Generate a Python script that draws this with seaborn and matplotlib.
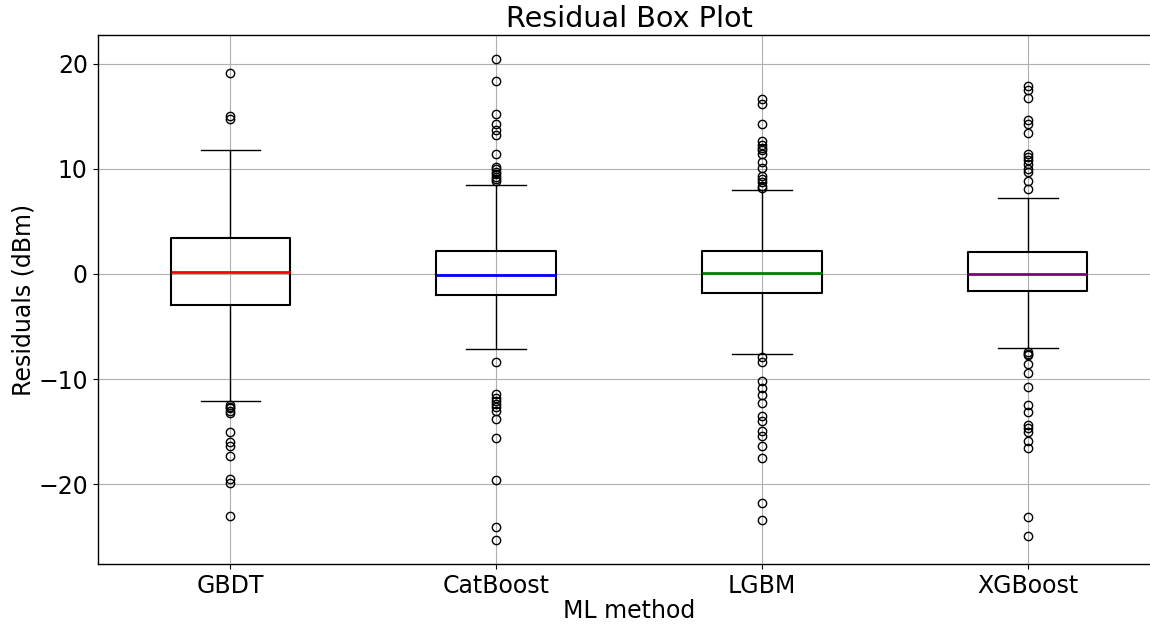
import numpy as np
import pandas as pd
import seaborn as sns
import matplotlib
matplotlib.use("Agg")
import matplotlib.pyplot as plt


# Data
METHODS = ['GBDT', 'CatBoost', 'LGBM', 'XGBoost']
MEDIAN_COLORS = ['red', 'blue', 'green', 'purple']

Q1 = [-2.92, -2.0, -1.78, -1.65]
MEDIAN = [0.16, -0.13, 0.13, -0.03]
Q3 = [3.4, 2.2, 2.2, 2.13]
WHISKER_LO = [-12.06, -7.14, -7.59, -7.05]
WHISKER_HI = [11.75, 8.45, 8.03, 7.24]

OUTLIERS_LO = [
    [-12.5, -12.7, -12.8, -13.0, -13.2, -15.0, -16.0, -16.4, -17.3, -19.5, -19.9, -23.0],
    [-8.4, -11.4, -11.8, -12.1, -12.4, -12.7, -13.0, -13.8, -15.6, -19.6, -24.1, -25.3],
    [-7.9, -8.4, -10.2, -10.9, -11.5, -12.3, -13.5, -14.0, -14.95, -15.4, -16.4, -17.5,
     -21.75, -23.4],
    [-7.4, -7.6, -7.7, -8.6, -9.4, -10.76, -12.5, -13.1, -14.4, -14.7, -15.0, -15.9,
     -16.6, -23.1, -24.9],
]
OUTLIERS_HI = [
    [19.1, 15.0, 14.7],
    [20.4, 18.4, 15.2, 14.25, 13.7, 13.2, 11.4, 10.2, 10.0, 9.7, 9.5, 9.2, 9.0, 8.8],
    [16.6, 16.2, 14.25, 12.6, 12.3, 12.0, 11.8, 11.4, 10.6, 10.1, 9.3, 9.0, 8.7, 8.4, 8.2],
    [17.9, 17.5, 16.7, 14.6, 14.25, 13.4, 11.4, 11.1, 10.8, 10.5, 10.0, 9.7, 8.8, 8.1],
]


def build_values(i, block=200):
    # sample whose quartiles / whiskers / fliers match the read values
    vals = (OUTLIERS_LO[i] + [WHISKER_LO[i]]
            + [Q1[i]] * block + [MEDIAN[i]] * block + [Q3[i]] * block
            + [WHISKER_HI[i]] + OUTLIERS_HI[i])
    return pd.DataFrame({'method': METHODS[i], 'residual': vals})


fig = plt.figure(figsize=(11.5, 6.26), dpi=100)
ax = fig.add_axes([0.0848, 0.099, 0.9244, 0.8446])

for i, name in enumerate(METHODS):
    df = build_values(i)
    sns.boxplot(data=df, x='method', y='residual', order=METHODS, ax=ax,
                width=0.45, fill=False, color='black', whis=1.5,
                boxprops=dict(linewidth=1.5, color='black'),
                medianprops=dict(linewidth=2, color=MEDIAN_COLORS[i]),
                whiskerprops=dict(linewidth=1, color='black'),
                capprops=dict(linewidth=1, color='black'),
                capwidths=0.225,
                flierprops=dict(marker='o', markersize=6, markerfacecolor='none',
                                markeredgecolor='black', markeredgewidth=1))

ax.set_xlim(-0.5, 3.5)
ax.set_ylim(-27.6, 22.7)
ax.grid(True, color='#b0b0b0', linewidth=0.8)
ax.set_axisbelow(True)
for s in ax.spines.values():
    s.set_color('black')
    s.set_linewidth(1)

ax.set_title('Residual Box Plot', fontsize=20.6)
ax.set_xlabel('ML method', fontsize=17, labelpad=1)
ax.set_ylabel('Residuals (dBm)', fontsize=17, labelpad=1.5)
ax.tick_params(labelsize=17)

fig.savefig('out.png', dpi=100)
